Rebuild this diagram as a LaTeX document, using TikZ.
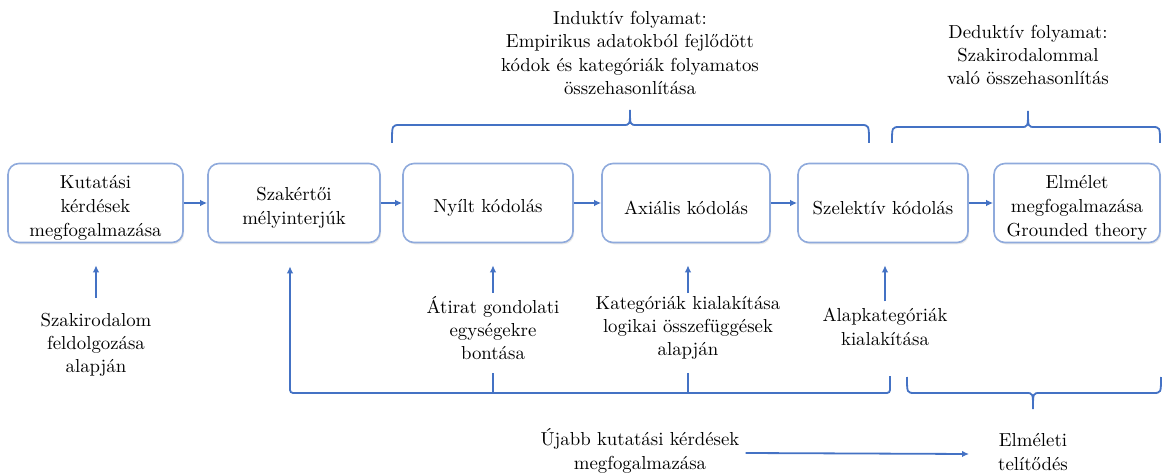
\documentclass[tikz,border=0pt]{standalone}
\usetikzlibrary{arrows.meta,shadows}
\definecolor{flow}{RGB}{68,114,196}
\definecolor{frame}{RGB}{143,170,220}

% Latin Modern Roman 10 design, scaled up (heavier than the 17pt design)
\font\diagfont="[lmroman10-regular]:mapping=tex-text" at 18.8pt

% horizontal curly bracket: x-left, x-right, x-tip, y-ends, y-bar, y-tip
\newcommand{\flowbrace}[6]{%
  \draw[link] (#1,#4) .. controls (#1,#5) .. (#1+8,#5) -- (#3-7,#5)
    .. controls (#3,#5) .. (#3,#6) .. controls (#3,#5) .. (#3+7,#5)
    -- (#2-8,#5) .. controls (#2,#5) .. (#2,#4);}

\begin{document}
\begin{tikzpicture}[x=1pt,y=-1pt,
  txt/.style={font=\fontsize{18.8}{23.3}\selectfont\diagfont, align=center, inner sep=0pt},
  stagetext/.style={txt, font=\fontsize{18.8}{24.3}\selectfont\diagfont, yshift=-5pt},
  stage/.style={draw=frame, line width=1.6pt, fill=white, rounded corners=11pt,
    minimum width=170pt, minimum height=79pt, inner sep=0pt,
    drop shadow={shadow xshift=1.2pt, shadow yshift=-1.8pt, opacity=0.18}},
  link/.style={draw=flow, line width=1.8pt},
  arr/.style={link, -{Latex[length=7pt,width=6.5pt]}},
]
\useasboundingbox (0,0) rectangle (1163,473);

% process stages (frame, then its caption)
\node[stage, minimum width=175pt] (b1) at (95.5,203) {};
\node[stage, minimum width=172pt] (b2) at (294,203) {};
\node[stage] (b3) at (488,203) {};
\node[stage, minimum width=168pt] (b4) at (686,203) {};
\node[stage] (b5) at (883,203) {};
\node[stage, minimum width=166pt] (b6) at (1077,203) {};

\node[stagetext] (b1t) at (b1) {Kutatási\\kérdések\\megfogalmazása};
\node[stagetext] (b2t) at (b2) {Szakértői\\mélyinterjúk};
\node[stagetext] (b3t) at (b3) {Nyílt kódolás};
\node[stagetext] (b4t) at (b4) {Axiális kódolás};
\node[stagetext] (b5t) at (b5) {Szelektív kódolás};
\node[stagetext] (b6t) at (b6) {Elmélet\\megfogalmazása\\Grounded theory};

\draw[arr] (b1) -- (b2);
\draw[arr] (b2) -- (b3);
\draw[arr] (b3) -- (b4);
\draw[arr] (b4) -- (b5);
\draw[arr] (b5) -- (b6);

% inputs below the stages
\node[txt] (l1) at (96,345) {Szakirodalom\\feldolgozása\\alapján};
\node[txt] (l2) at (493,328) {Átirat gondolati\\egységekre\\bontása};
\node[txt] (l3) at (688,328) {Kategóriák kialakítása\\logikai összefüggések\\alapján};
\node[txt] (l4) at (885,327) {Alapkategóriák\\kialakítása};

\draw[arr, shorten <=15pt, shorten >=22pt] (l1.north) -- (l1.north |- b1.south);
\draw[arr, shorten <=3pt, shorten >=22pt] (l2.north) -- (l2.north |- b3.south);
\draw[arr, shorten <=3pt, shorten >=22pt] (l3.north) -- (l3.north |- b4.south);
\draw[arr, shorten <=7pt, shorten >=22pt] (l4.north) -- (l4.north |- b5.south);

% feedback loop back to the interviews
\coordinate (fbR) at (890,376);
\coordinate (fbY) at (0,393);
\draw[arr, rounded corners=3pt] (fbR) -- (fbR |- fbY)
  -- ([xshift=-4pt]b2.south |- fbY) -- ([xshift=-4pt,yshift=-23pt]b2.south);
\draw[link, shorten <=13pt] (l2.south) -- (l2.south |- fbY);
\draw[link, shorten <=13pt] (l3.south) -- (l3.south |- fbY);

% process annotations on top
\node[txt] (t1) at (630,53) {Induktív folyamat:\\Empirikus adatokból fejlődött\\kódok és kategóriák folyamatos\\összehasonlítása};
\node[txt] (t2) at (1028,55) {Deduktív folyamat:\\Szakirodalommal\\való összehasonlítás};
\flowbrace{392}{869}{630}{143}{125}{110}
\flowbrace{892}{1160}{1028}{143}{127}{111}

% saturation
\node[txt] (u1) at (640,451) {Újabb kutatási kérdések\\megfogalmazása};
\node[txt] (u2) at (1033,452) {Elméleti\\telítődés};
\flowbrace{907}{1161}{1033}{377}{393}{409}
\draw[arr] ([xshift=6pt,yshift=-2pt]u1.east) -- ([xshift=-29pt,yshift=-2pt]u2.west);
\end{tikzpicture}
\end{document}
